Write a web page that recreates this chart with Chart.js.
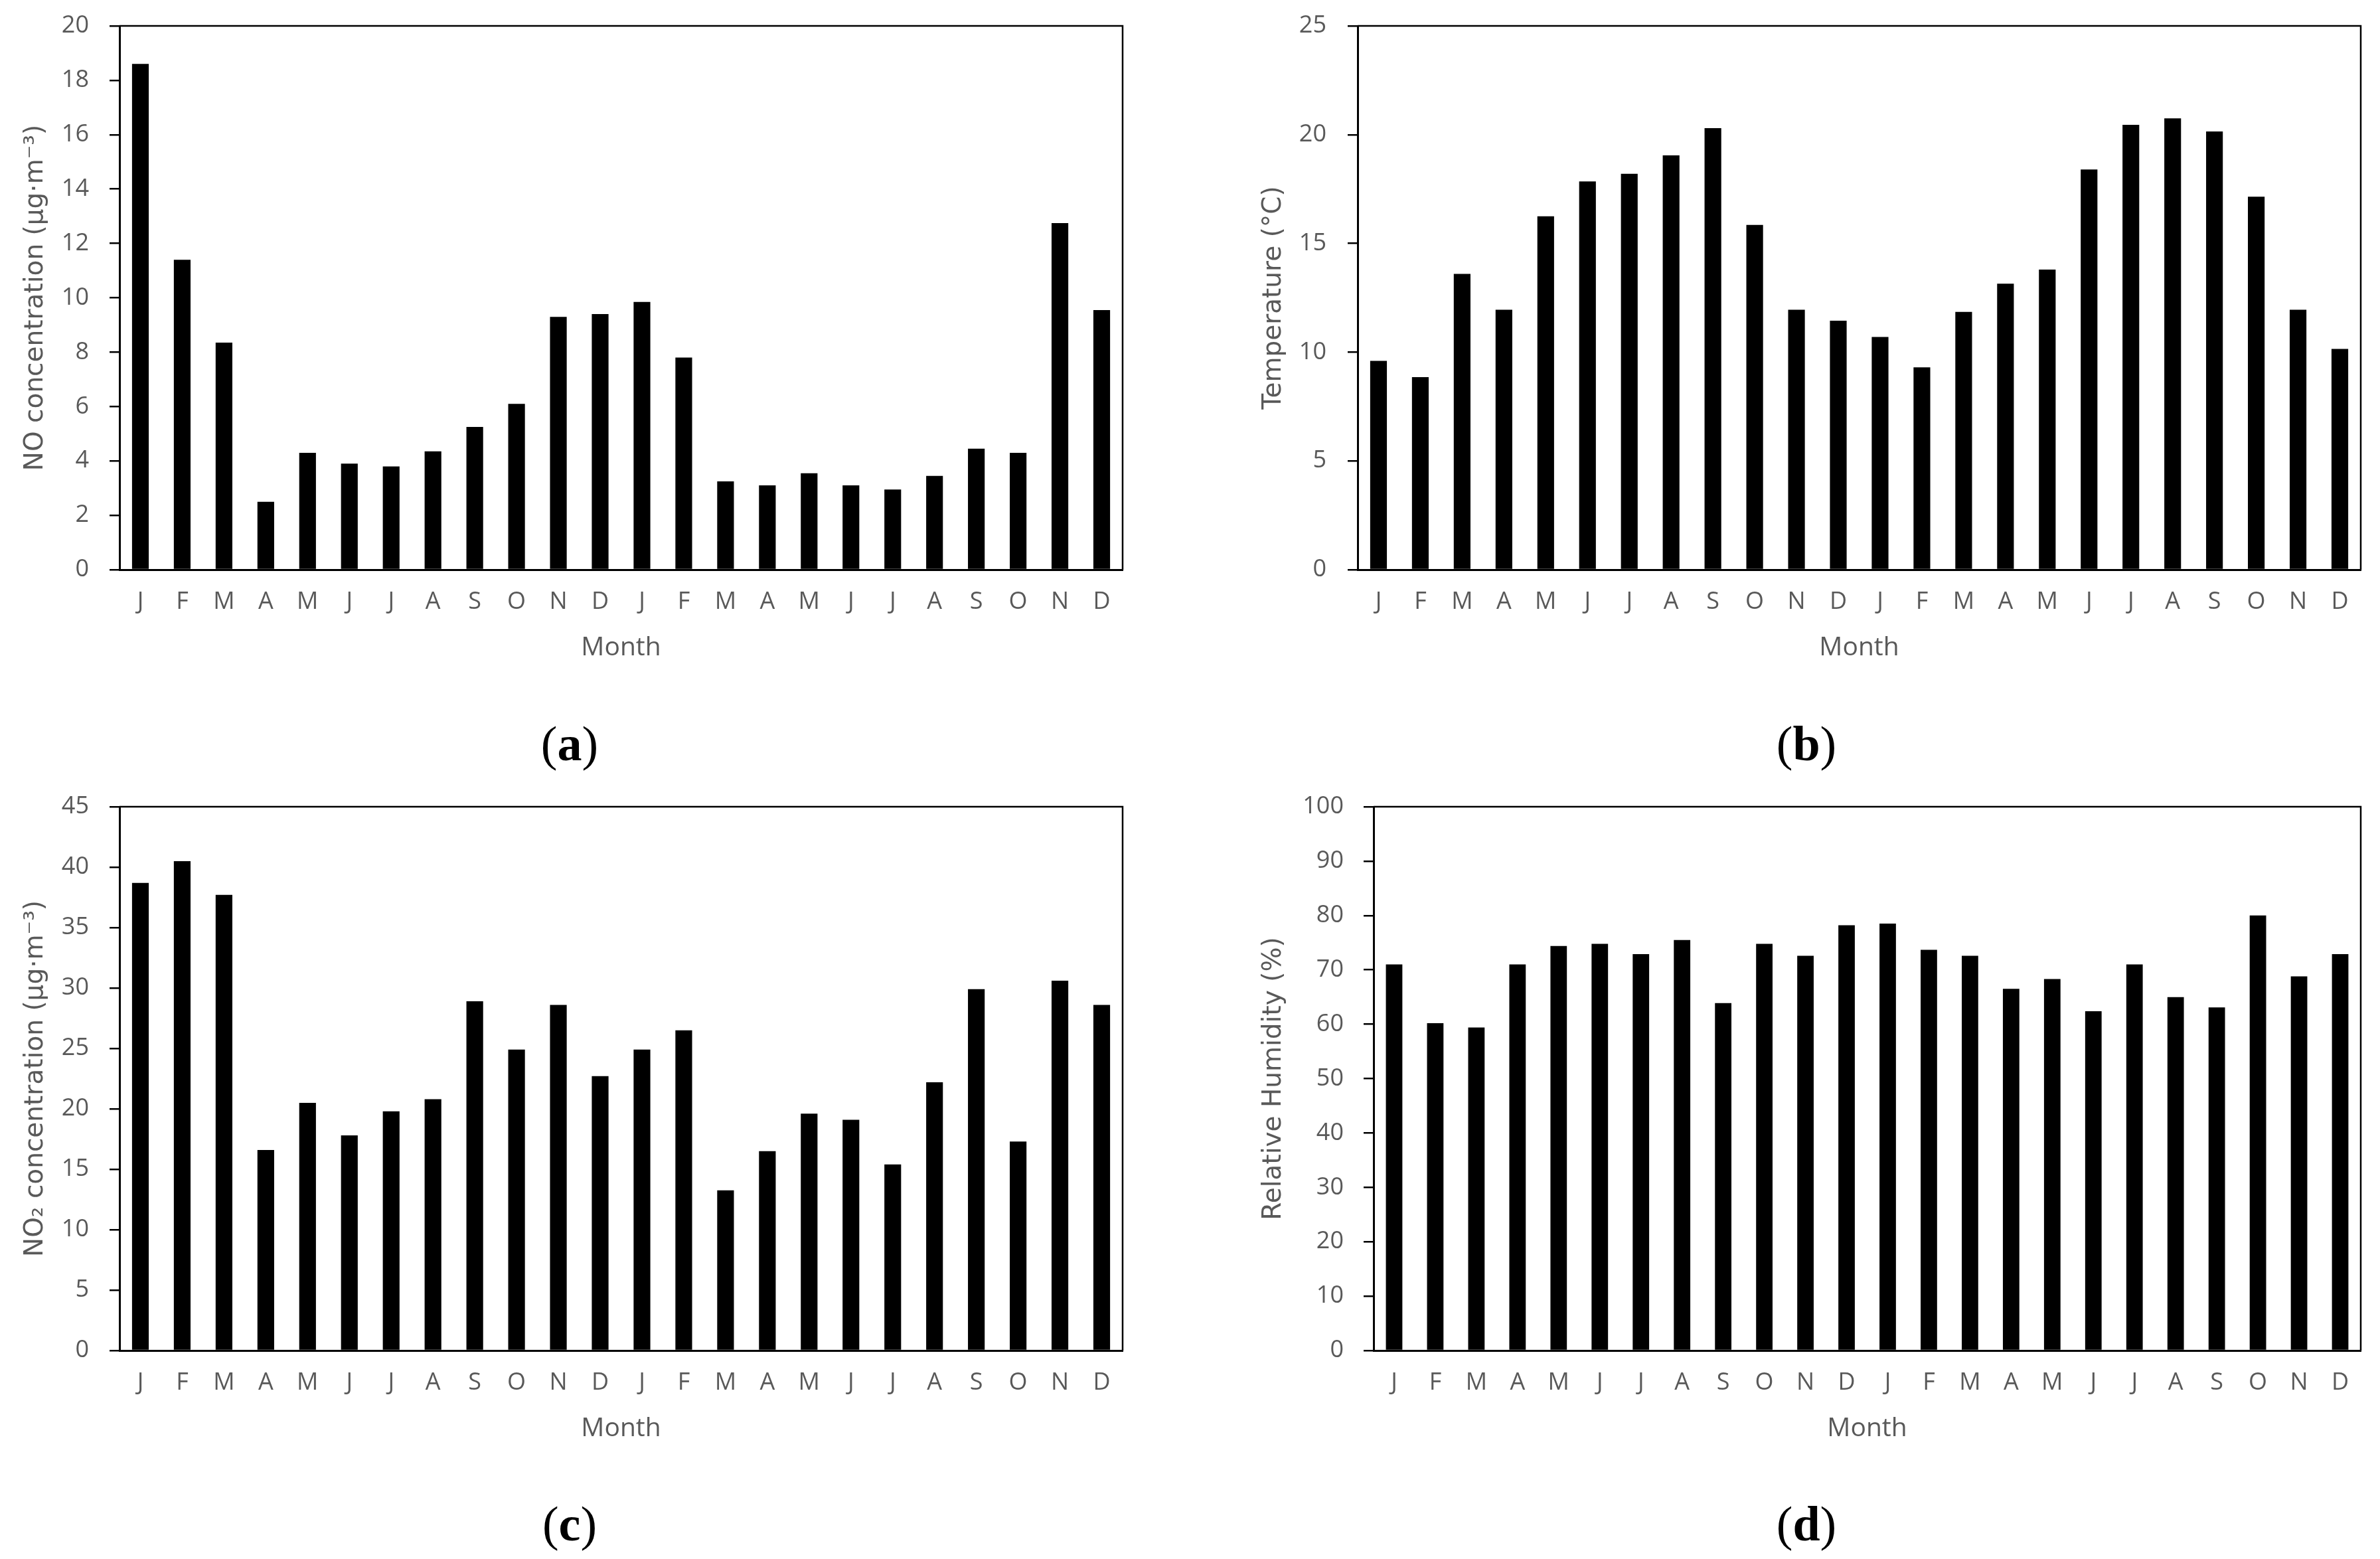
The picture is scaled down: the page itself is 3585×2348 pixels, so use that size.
<!DOCTYPE html>
<html>
<head>
<meta charset="utf-8">
<script src="https://cdn.jsdelivr.net/npm/chart.js@4.4.1/dist/chart.umd.min.js"></script>
<style>
  body { margin: 0; width: 3585px; height: 2348px; background: #fff; position: relative; overflow: hidden; }
  canvas { position: absolute; display: block; }
  .lbl { position: absolute; font-family: 'Liberation Serif', 'DejaVu Serif', serif; font-size: 74px; color: #000;
         transform: translate(-50%, -50%); white-space: nowrap; }
</style>
</head>
<body>
<canvas id="chartA" width="1792" height="1000" style="left:0px;top:0px"></canvas>
<canvas id="chartB" width="1720" height="1000" style="left:1865px;top:0px"></canvas>
<canvas id="chartC" width="1792" height="1000" style="left:0px;top:1176px"></canvas>
<canvas id="chartD" width="1720" height="1000" style="left:1865px;top:1176px"></canvas>
<div class="lbl" style="left:858px;top:1120px">(<b>a</b>)</div>
<div class="lbl" style="left:2721px;top:1120px">(<b>b</b>)</div>
<div class="lbl" style="left:858px;top:2295px">(<b>c</b>)</div>
<div class="lbl" style="left:2721px;top:2295px">(<b>d</b>)</div>
<script>
// two years of monthly values
const months = ['J', 'F', 'M', 'A', 'M', 'J', 'J', 'A', 'S', 'O', 'N', 'D',
                'J', 'F', 'M', 'A', 'M', 'J', 'J', 'A', 'S', 'O', 'N', 'D'];

const noValues = [18.6, 11.4, 8.35, 2.5, 4.3, 3.9, 3.8, 4.35, 5.25, 6.1, 9.3, 9.4,
                  9.85, 7.8, 3.25, 3.1, 3.55, 3.1, 2.95, 3.45, 4.45, 4.3, 12.75, 9.55];
const tempValues = [9.6, 8.85, 13.6, 11.95, 16.25, 17.85, 18.2, 19.05, 20.3, 15.85, 11.95, 11.45,
                    10.7, 9.3, 11.85, 13.15, 13.8, 18.4, 20.45, 20.75, 20.15, 17.15, 11.95, 10.15];
const no2Values = [38.7, 40.5, 37.7, 16.6, 20.5, 17.8, 19.8, 20.8, 28.9, 24.9, 28.6, 22.7,
                   24.9, 26.5, 13.25, 16.5, 19.6, 19.1, 15.4, 22.2, 29.9, 17.3, 30.6, 28.6];
const rhValues = [71.0, 60.2, 59.4, 71.0, 74.4, 74.8, 72.9, 75.5, 63.9, 74.8, 72.6, 78.2,
                  78.5, 73.7, 72.6, 66.5, 68.3, 62.4, 71.0, 65.0, 63.1, 80.0, 68.8, 72.9];

const yTitles = ['NO concentration (\u03bcg\u00b7m\u207b\u00b3)', 'Temperature (\u00b0C)',
                 'NO\u2082 concentration (\u03bcg\u00b7m\u207b\u00b3)', 'Relative Humidity (%)'];
const yMax = [20, 25, 45, 100];
const yStep = [2, 5, 5, 10];

const grey = '#595959';

// top and right edges of the plot frame
const framePlugin = {
    id: 'frame',
    afterDraw(chart) {
        const { ctx, chartArea: a } = chart;
        ctx.save();
        ctx.strokeStyle = '#000';
        ctx.lineWidth = 2.5;
        ctx.beginPath();
        ctx.moveTo(a.left, a.top);
        ctx.lineTo(a.right, a.top);
        ctx.lineTo(a.right, a.bottom);
        ctx.stroke();
        ctx.restore();
    }
};

function makeChart(canvasId, values, title, max, step, axisWidth, tickPad, padRight) {
    const canvas = document.getElementById(canvasId);
    const h = canvas.height;
    new Chart(canvas.getContext('2d'), {
        type: 'bar',
        data: {
            labels: months,
            datasets: [{
                data: values,
                backgroundColor: '#000',
                borderWidth: 0,
                barPercentage: 0.4,
                categoryPercentage: 1.0
            }]
        },
        options: {
            responsive: false,
            animation: false,
            devicePixelRatio: 1,
            layout: { padding: { top: 39, right: padRight, left: 0, bottom: 0 } },
            plugins: { legend: { display: false }, tooltip: { enabled: false } },
            scales: {
                x: {
                    grid: { display: false, drawTicks: false },
                    border: { display: true, color: '#000', width: 3 },
                    ticks: {
                        autoSkip: false, maxRotation: 0, padding: 27,
                        color: grey, font: { family: 'Open Sans', size: 36 }
                    },
                    title: {
                        display: true, text: 'Month', color: grey,
                        font: { family: 'Open Sans', size: 39 },
                        padding: { top: 0, bottom: 1 }
                    },
                    afterFit(scale) { scale.height = h - 858; }
                },
                y: {
                    min: 0, max: max,
                    grid: { display: true, drawOnChartArea: false, drawTicks: true, tickLength: 15, color: '#000', lineWidth: 2.5 },
                    border: { display: true, color: '#000', width: 3 },
                    ticks: {
                        stepSize: step, padding: tickPad,
                        color: grey, font: { family: 'Open Sans', size: 36 }
                    },
                    title: {
                        display: true, text: title, color: grey,
                        font: { family: 'DejaVu Sans', size: 39 },
                        padding: { top: 30, bottom: 0 }
                    },
                    afterFit(scale) {
                        scale.width = axisWidth;
                        scale.paddingTop = 22;
                        scale.paddingBottom = 22;
                    }
                }
            }
        },
        plugins: [framePlugin]
    });
}

makeChart('chartA', noValues, yTitles[0], yMax[0], yStep[0], 180, 31, 101);
makeChart('chartB', tempValues, yTitles[1], yMax[1], yStep[1], 180, 32, 29);
makeChart('chartC', no2Values, yTitles[2], yMax[2], yStep[2], 180, 31, 101);
makeChart('chartD', rhValues, yTitles[3], yMax[3], yStep[3], 204, 30, 29);
</script>
</body>
</html>
